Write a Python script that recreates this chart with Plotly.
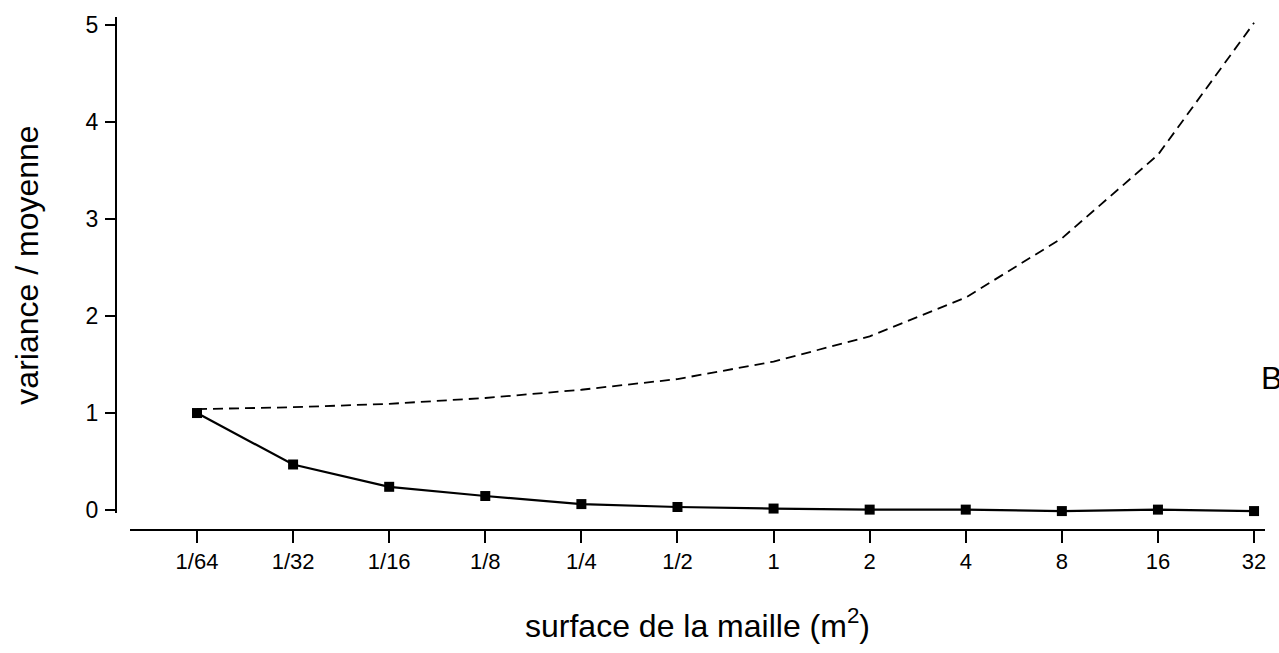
import plotly.graph_objects as go

# Mesh surface (m2) categories
surfaces = ["1/64", "1/32", "1/16", "1/8", "1/4", "1/2", "1", "2", "4", "8", "16", "32"]

# observed variance / mean ratio (solid line with squares)
ratio_obs = [1.0, 0.47, 0.24, 0.145, 0.062, 0.032, 0.016, 0.005, 0.005, -0.01, 0.005, -0.01]

# reference curve (dashed)
ratio_ref = [1.04, 1.06, 1.095, 1.155, 1.24, 1.35, 1.53, 1.79, 2.19, 2.80, 3.66, 5.02]

xi = list(range(len(surfaces)))

fig = go.Figure()
fig.add_trace(go.Scatter(x=xi, y=ratio_ref, mode="lines",
                         line=dict(color="black", width=1.8, dash="10px,6px"),
                         cliponaxis=False, showlegend=False))
fig.add_trace(go.Scatter(x=xi, y=ratio_obs, mode="lines+markers",
                         line=dict(color="black", width=2.2),
                         marker=dict(symbol="square", size=10, color="black"),
                         cliponaxis=False, showlegend=False))

fig.add_annotation(text="B", xref="paper", yref="paper", x=1.006, y=0.296,
                   xanchor="center", yanchor="middle", showarrow=False,
                   font=dict(size=32, color="black"))

fig.update_layout(
    width=1279, height=653,
    margin=dict(l=116, r=14, t=17, b=123),
    plot_bgcolor="white", paper_bgcolor="white",
    font=dict(family="Liberation Sans, Arial", color="black"),
    xaxis=dict(
        domain=[0.0122, 1], anchor="free", position=0,
        range=[-0.697, 11.114],
        tickvals=xi, ticktext=surfaces,
        showline=True, linecolor="black", linewidth=2,
        ticks="outside", ticklen=12, tickwidth=2, tickcolor="black",
        ticklabelstandoff=0,
        showgrid=False, zeroline=False,
        tickfont=dict(size=22),
        title=dict(text="surface de la maille (m<sup>2</sup>)", font=dict(size=32), standoff=40),
    ),
    yaxis=dict(
        domain=[0.0331, 1], anchor="free", position=0,
        range=[-0.03, 5.08],
        tickvals=[0, 1, 2, 3, 4, 5],
        showline=True, linecolor="black", linewidth=2,
        ticks="outside", ticklen=10, tickwidth=2, tickcolor="black",
        ticklabelstandoff=2,
        showgrid=False, zeroline=False,
        tickfont=dict(size=23),
        title=dict(text="variance / moyenne", font=dict(size=32), standoff=36),
    ),
)

# remove the default page margin so the figure fills the window exactly
fig.write_html("out.html", config={"displayModeBar": False},
               post_script="document.body.style.margin = '0';")
